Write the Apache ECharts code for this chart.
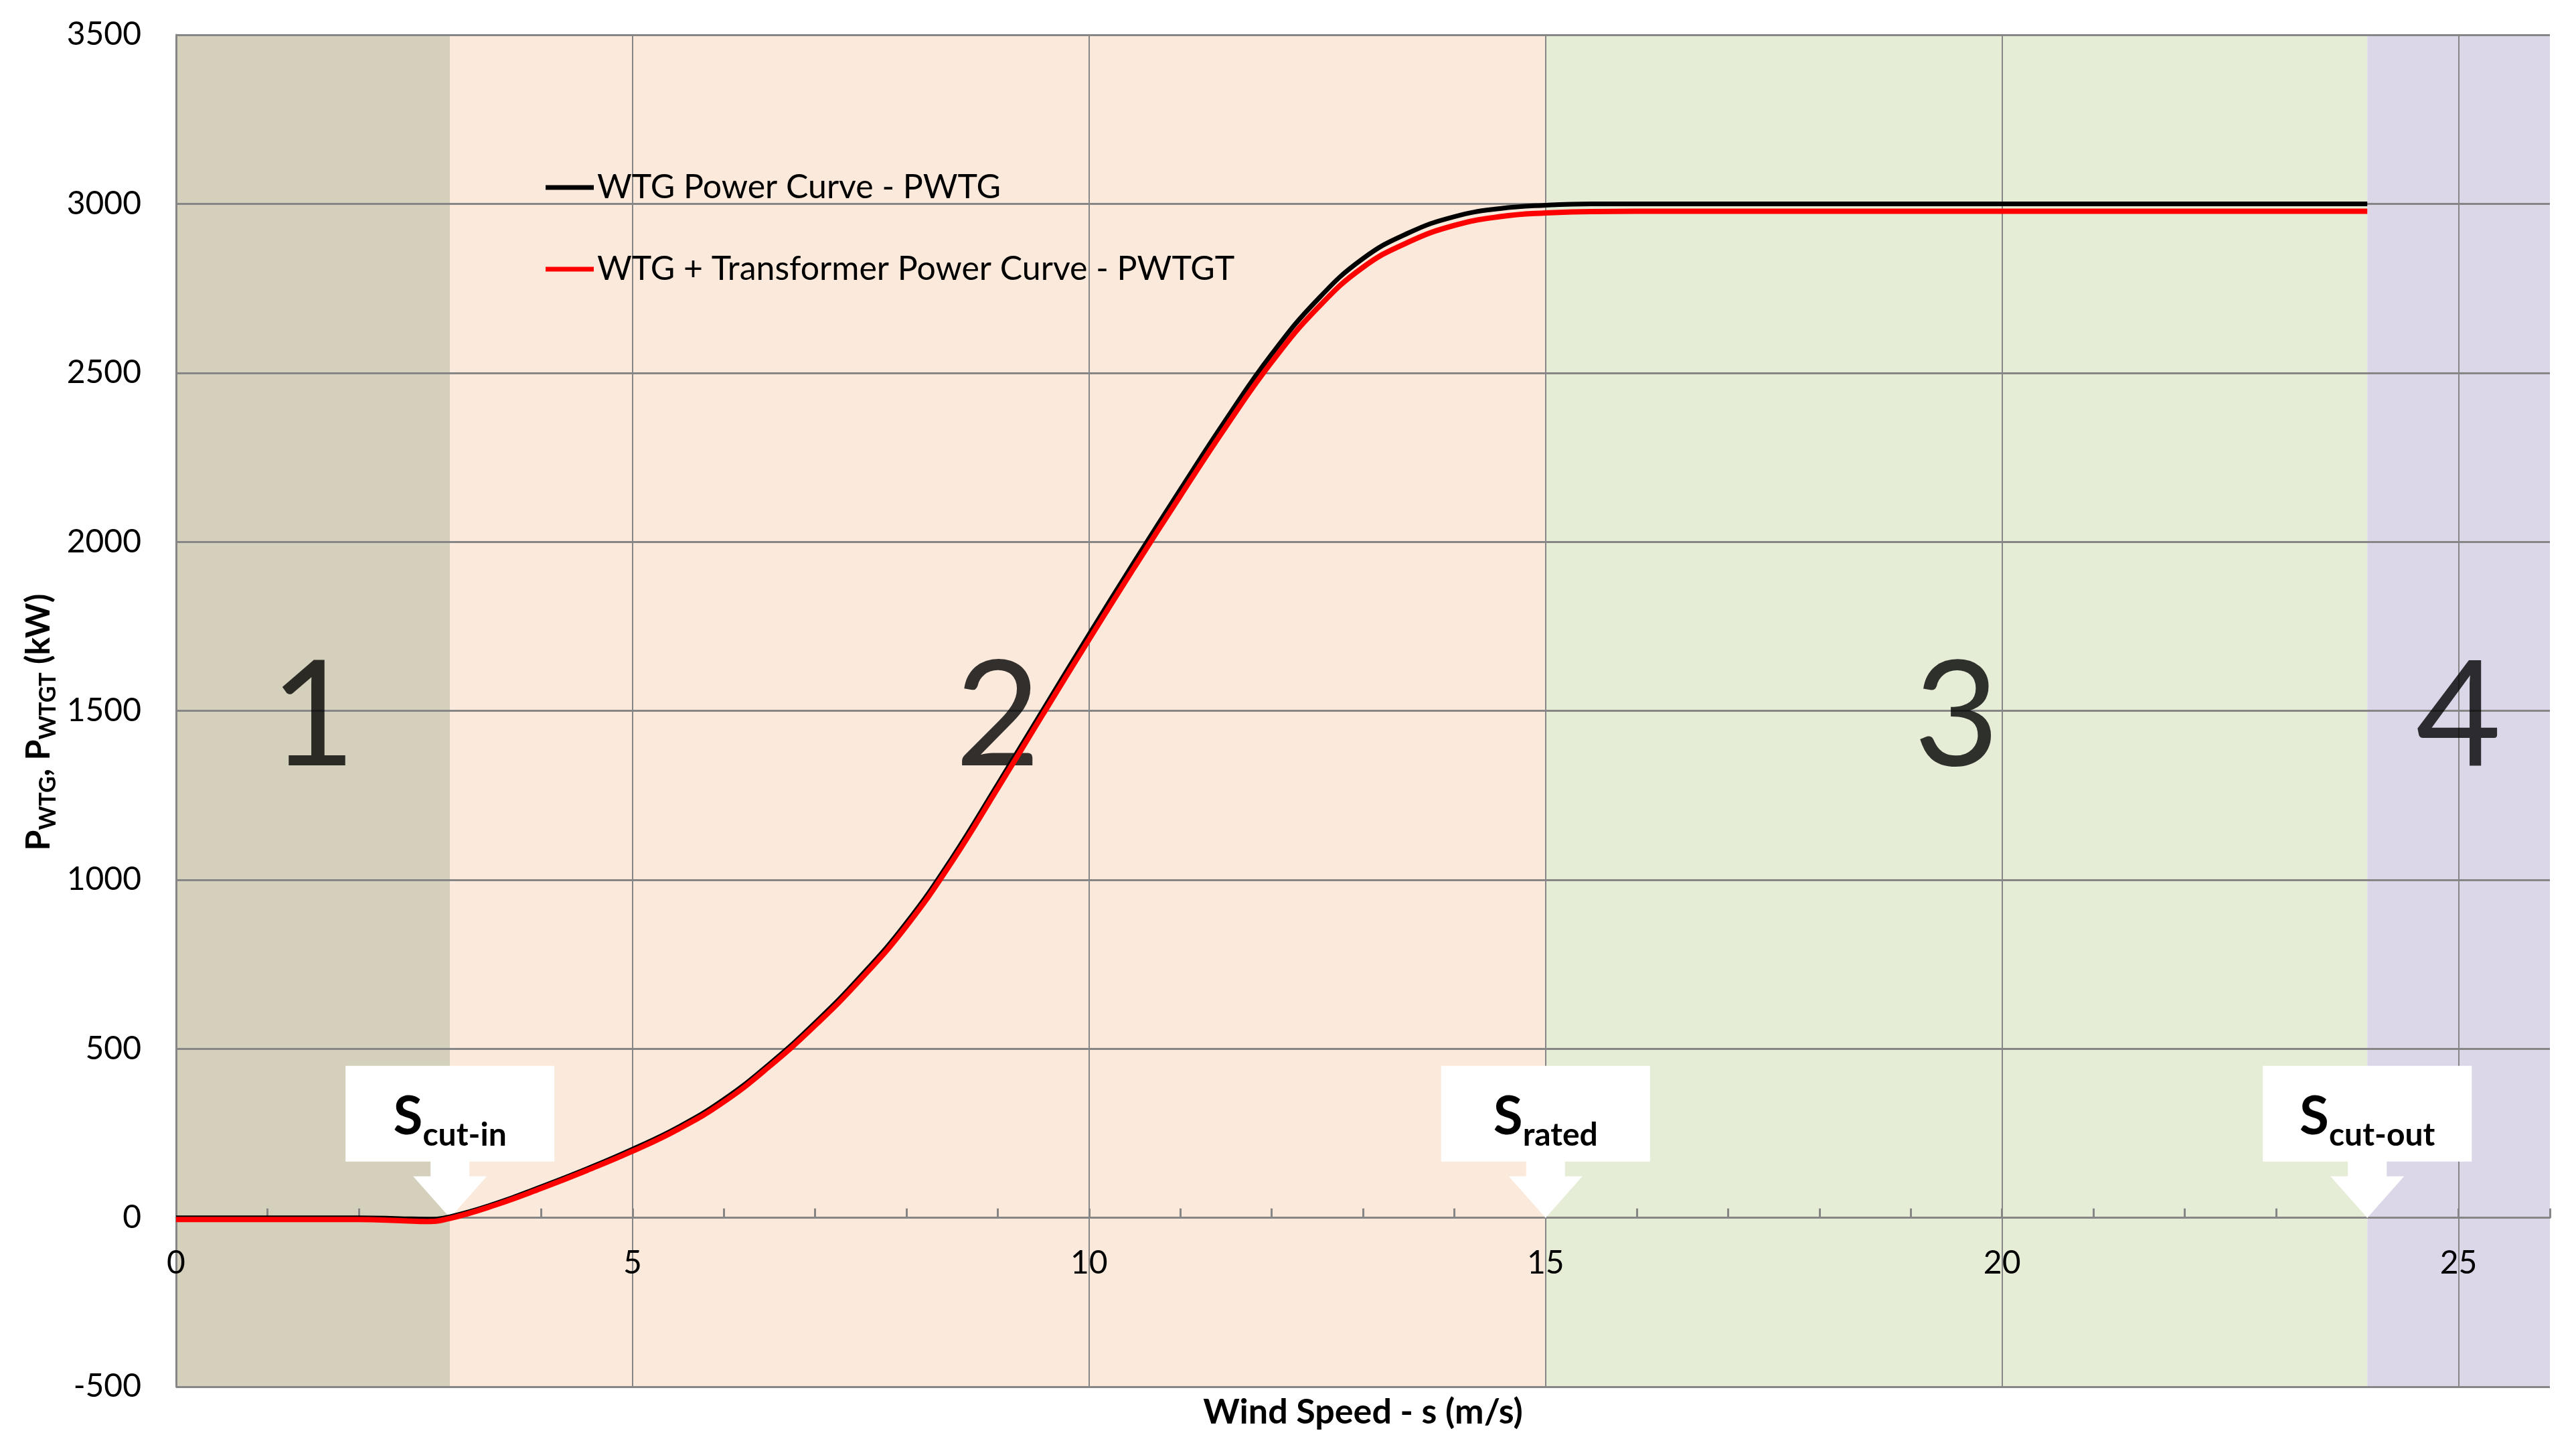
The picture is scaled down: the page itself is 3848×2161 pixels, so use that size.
<!DOCTYPE html>
<html>
<head>
<meta charset="utf-8">
<script src="https://cdn.jsdelivr.net/npm/echarts@6/dist/echarts.min.js"></script>
<style>
html,body{margin:0;padding:0;background:#fff;}
#chart{width:3848px;height:2161px;}
</style>
</head>
<body>
<div id="chart"></div>
<script>
// ---- data ----
const windSpeed = [0,0.5,1,1.5,2,2.5,2.75,3,3.5,4,4.5,5,5.5,6,6.5,7,7.5,8,8.5,9,9.5,10,10.5,11,11.5,12,12.5,13,13.5,14,14.5,15,15.5,16,17,18,19,20,21,22,23,24];
const pWTG  = [0,0,0,0,0,-3,-4,3,42,92,145,203,268,350,455,577,715,873,1065,1283,1505,1726,1943,2155,2362,2555,2716,2838,2914,2962,2986,2996,3000,3000,3000,3000,3000,3000,3000,3000,3000,3000];
const pWTGT = [-5,-5,-5,-5,-5,-9,-11,-2,38,87,140,197,262,343,448,569,706,863,1054,1271,1492,1711,1926,2136,2341,2532,2691,2812,2887,2936,2962,2973,2977,2978,2978,2978,2978,2978,2978,2978,2978,2978];
const seriesNames = ['WTG Power Curve - PWTG', 'WTG + Transformer Power Curve - PWTGT'];
const regionStart = [0, 3, 15, 24];
const regionEnd   = [3, 15, 24, 26];
const regionNames = ['1', '2', '3', '4'];
const regionLabelX = [1.5, 9, 19.5, 25];
const regionLabelY = [1480, 1480, 1480, 1480];
const calloutX = [3, 15, 24];
const calloutSub = ['cut-in', 'rated', 'cut-out'];

// ---- styles ----
const regionColors = ['#d5d0bb', '#fbeadb', '#e6edd7', '#dcd7e8'];
const gridGray = '#868686';
const FONT = 'Lato';

const chart = echarts.init(document.getElementById('chart'), null, {renderer: 'canvas'});

const lineData1 = windSpeed.map((x, i) => [x, pWTG[i]]);
const lineData2 = windSpeed.map((x, i) => [x, pWTGT[i]]);

const option = {
  backgroundColor: '#ffffff',
  animation: false,
  textStyle: { fontFamily: FONT },
  grid: { left: 263, right: 39, top: 52, bottom: 90, containLabel: false, outerBoundsMode: 'none' },
  legend: {
    orient: 'vertical',
    left: 810,
    top: 250,
    icon: 'rect',
    itemWidth: 72,
    itemHeight: 7,
    itemGap: 72,
    data: seriesNames,
    textStyle: { fontFamily: FONT, fontSize: 50, lineHeight: 50, color: '#000' }
  },
  xAxis: [
    {
      type: 'value', min: 0, max: 26, interval: 5, z: 1.5,
      name: 'Wind Speed - s (m/s)',
      nameLocation: 'middle', nameGap: 12,
      nameTextStyle: { fontFamily: FONT, fontSize: 52, fontWeight: 'bold', color: '#000' },
      axisLine: { show: true, onZero: true, lineStyle: { color: gridGray, width: 3 } },
      axisTick: { show: false },
      axisLabel: { inside: true, fontFamily: FONT, fontSize: 48, color: '#000', margin: 160,
        formatter: v => (v % 5 === 0 ? String(v) : '') },
      splitLine: { show: true, showMinLine: false, showMaxLine: false, lineStyle: { color: gridGray, width: 2 } }
    },
    {
      type: 'value', min: 0, max: 26, interval: 1, z: 1.5, position: 'bottom',
      axisLine: { show: false, onZero: true, onZeroAxisIndex: 0 },
      axisTick: { show: true, inside: true, length: 14, lineStyle: { color: gridGray, width: 3 } },
      axisLabel: { show: false },
      splitLine: { show: false }
    }
  ],
  yAxis: {
    type: 'value', min: -500, max: 3500, interval: 500, z: 1.5,
    name: '{p|P}{sub|WTG}{p|, P}{sub|WTGT}{p| (kW)}',
    nameLocation: 'middle', nameGap: 180, nameRotate: 90,
    nameTextStyle: {
      padding: [0, 34, 0, 0],
      rich: {
        p:   { fontFamily: FONT, fontSize: 50, fontWeight: 'bold', color: '#000', lineHeight: 64, verticalAlign: 'bottom' },
        sub: { fontFamily: FONT, fontSize: 34, fontWeight: 'bold', color: '#000', height: 22, verticalAlign: 'bottom' }
      }
    },
    axisLine: { show: true, lineStyle: { color: gridGray, width: 3 } },
    axisTick: { show: false },
    axisLabel: { fontFamily: FONT, fontSize: 48, color: '#000', margin: 52, formatter: v => String(v) },
    splitLine: { show: true, lineStyle: { color: gridGray, width: 3 } }
  },
  series: [
    {
      name: 'regions', type: 'line', data: [], silent: true, z: 1,
      markArea: {
        silent: true,
        data: regionStart.map((s, i) => [
          { xAxis: s, yAxis: -500, itemStyle: { color: regionColors[i] } },
          { xAxis: regionEnd[i], yAxis: 3500 }
        ])
      }
    },
    {
      name: 'regionLabels', type: 'scatter', symbolSize: 0, silent: true, z: 2,
      data: regionLabelX.map((x, i) => [x, regionLabelY[i], regionNames[i]]),
      label: { show: true, position: 'inside', formatter: p => p.data[2],
        fontFamily: FONT, fontSize: 220, color: '#000' }
    },
    {
      name: 'callouts', type: 'custom', z: 2, silent: true,
      data: calloutX.map((x, i) => [x, 0, i]),
      renderItem: function (params, api) {
        const p = api.coord([api.value(0), 0]);
        const tx = p[0], ty = p[1];
        const pts = [
          [tx - 156, ty - 227], [tx + 156, ty - 227], [tx + 156, ty - 84],
          [tx + 29, ty - 84], [tx + 29, ty - 62], [tx + 55, ty - 62],
          [tx, ty], [tx - 55, ty - 62], [tx - 29, ty - 62],
          [tx - 29, ty - 84], [tx - 156, ty - 84]
        ];
        return {
          type: 'group',
          children: [
            { type: 'polygon', shape: { points: pts }, style: { fill: '#ffffff' } },
            { type: 'text', style: {
                x: tx, y: ty - 110,
                text: '{s|S}{sub|' + calloutSub[api.value(2)] + '}',
                align: 'center', verticalAlign: 'bottom',
                rich: {
                  s:   { fontFamily: FONT, fontSize: 80, fontWeight: 'bold', fill: '#000', lineHeight: 84, verticalAlign: 'bottom' },
                  sub: { fontFamily: FONT, fontSize: 48, fontWeight: 'bold', fill: '#000', height: 26, verticalAlign: 'bottom' }
                }
            } }
          ]
        };
      }
    },
    {
      name: seriesNames[0], type: 'line', data: lineData1, z: 3,
      smooth: 0.45, symbol: 'none',
      lineStyle: { color: '#000000', width: 7 }, itemStyle: { color: '#000000' }
    },
    {
      name: seriesNames[1], type: 'line', data: lineData2, z: 4,
      smooth: 0.45, symbol: 'none',
      lineStyle: { color: '#ff0000', width: 8 }, itemStyle: { color: '#ff0000' }
    }
  ]
};
chart.setOption(option);
</script>
</body>
</html>
